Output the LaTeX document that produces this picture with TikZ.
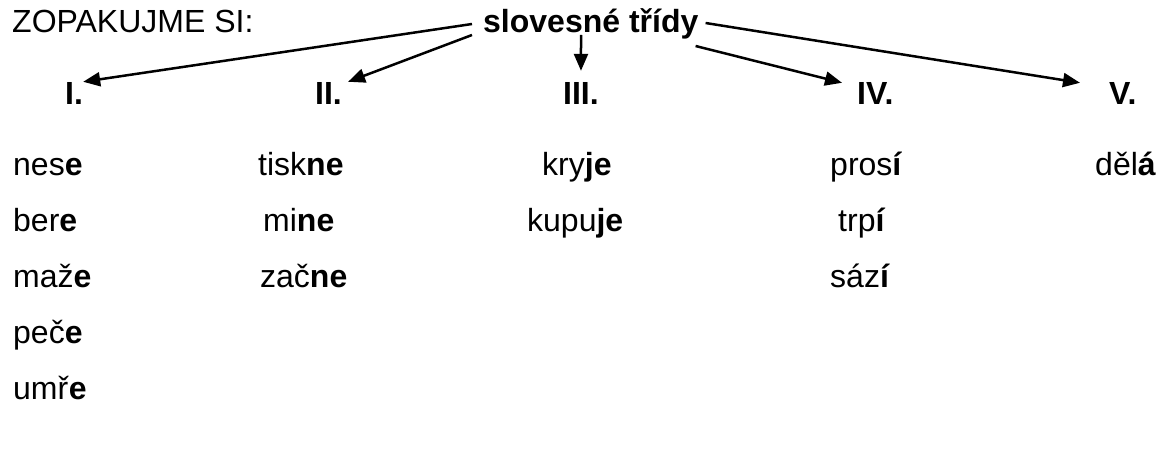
\documentclass[tikz,border=0pt]{standalone}
\usepackage{fontspec}
\setmainfont{Liberation Sans}
\usepackage{tikz}
\usetikzlibrary{arrows.meta}
\newcommand{\koncovka}[1]{\textbf{#1}}

\begin{document}
\begin{tikzpicture}[x=1pt,y=-1pt]
      \tikzstyle{word} = [anchor=base west,inner sep=0pt,font=\fontsize{32}{38}\selectfont]
      \tikzstyle{trida} = [word,font=\fontsize{32}{38}\selectfont\bfseries]
      \tikzstyle{arr} = [line width=2.5pt,-{Triangle[length=17pt,width=14pt]}]

      \fill[white] (0,0) rectangle (1162,452);
      \useasboundingbox (0,0) rectangle (1162,452);

      \node[word] (zopakujme) at (12,33) {ZOPAKUJME SI:};
      \node[trida] (tridy) at (483,33) {slovesné třídy};

      \foreach \n/\t/\x in {i/I./65,ii/II./315,iii/III./563,iv/IV./857,v/V./1109} {
        \node[trida] (\n) at (\x,104) {\t};
      }

      \foreach \n/\x/\y/\w in {
        nese/13/175/{nes\koncovka{e}}, bere/13/231/{ber\koncovka{e}},
        maze/13/287/{maž\koncovka{e}}, pece/13/343/{peč\koncovka{e}},
        umre/13/399/{umř\koncovka{e}},
        tiskne/258/175/{tisk\koncovka{ne}}, mine/263/231/{mi\koncovka{ne}},
        zacne/260/287/{zač\koncovka{ne}},
        kryje/542/175/{kry\koncovka{je}}, kupuje/527/231/{kupu\koncovka{je}},
        prosi/830/175/{pros\koncovka{í}}, trpi/838/231/{trp\koncovka{í}},
        sazi/830/287/{sáz\koncovka{í}},
        dela/1095/175/{děl\koncovka{á}}} {
        \node[word] (\n) at (\x,\y) {\w};
      }

      \draw[arr] ([shift={(-11,-9)}]tridy.base west) -- (i.north east);
      \draw[arr] ([shift={(-11,2)}]tridy.base west) -- ([xshift=6pt]ii.north east);
      \draw[arr] ([shift={(98,2)}]tridy.base west) -- ([yshift=11pt]iii.north);
      \draw[arr] ([shift={(-3,13)}]tridy.base east) -- ([shift={(-15,1)}]iv.north west);
      \draw[arr] ([shift={(7,-10)}]tridy.base east) -- ([shift={(-29,1)}]v.north west);

\end{tikzpicture}
\end{document}
